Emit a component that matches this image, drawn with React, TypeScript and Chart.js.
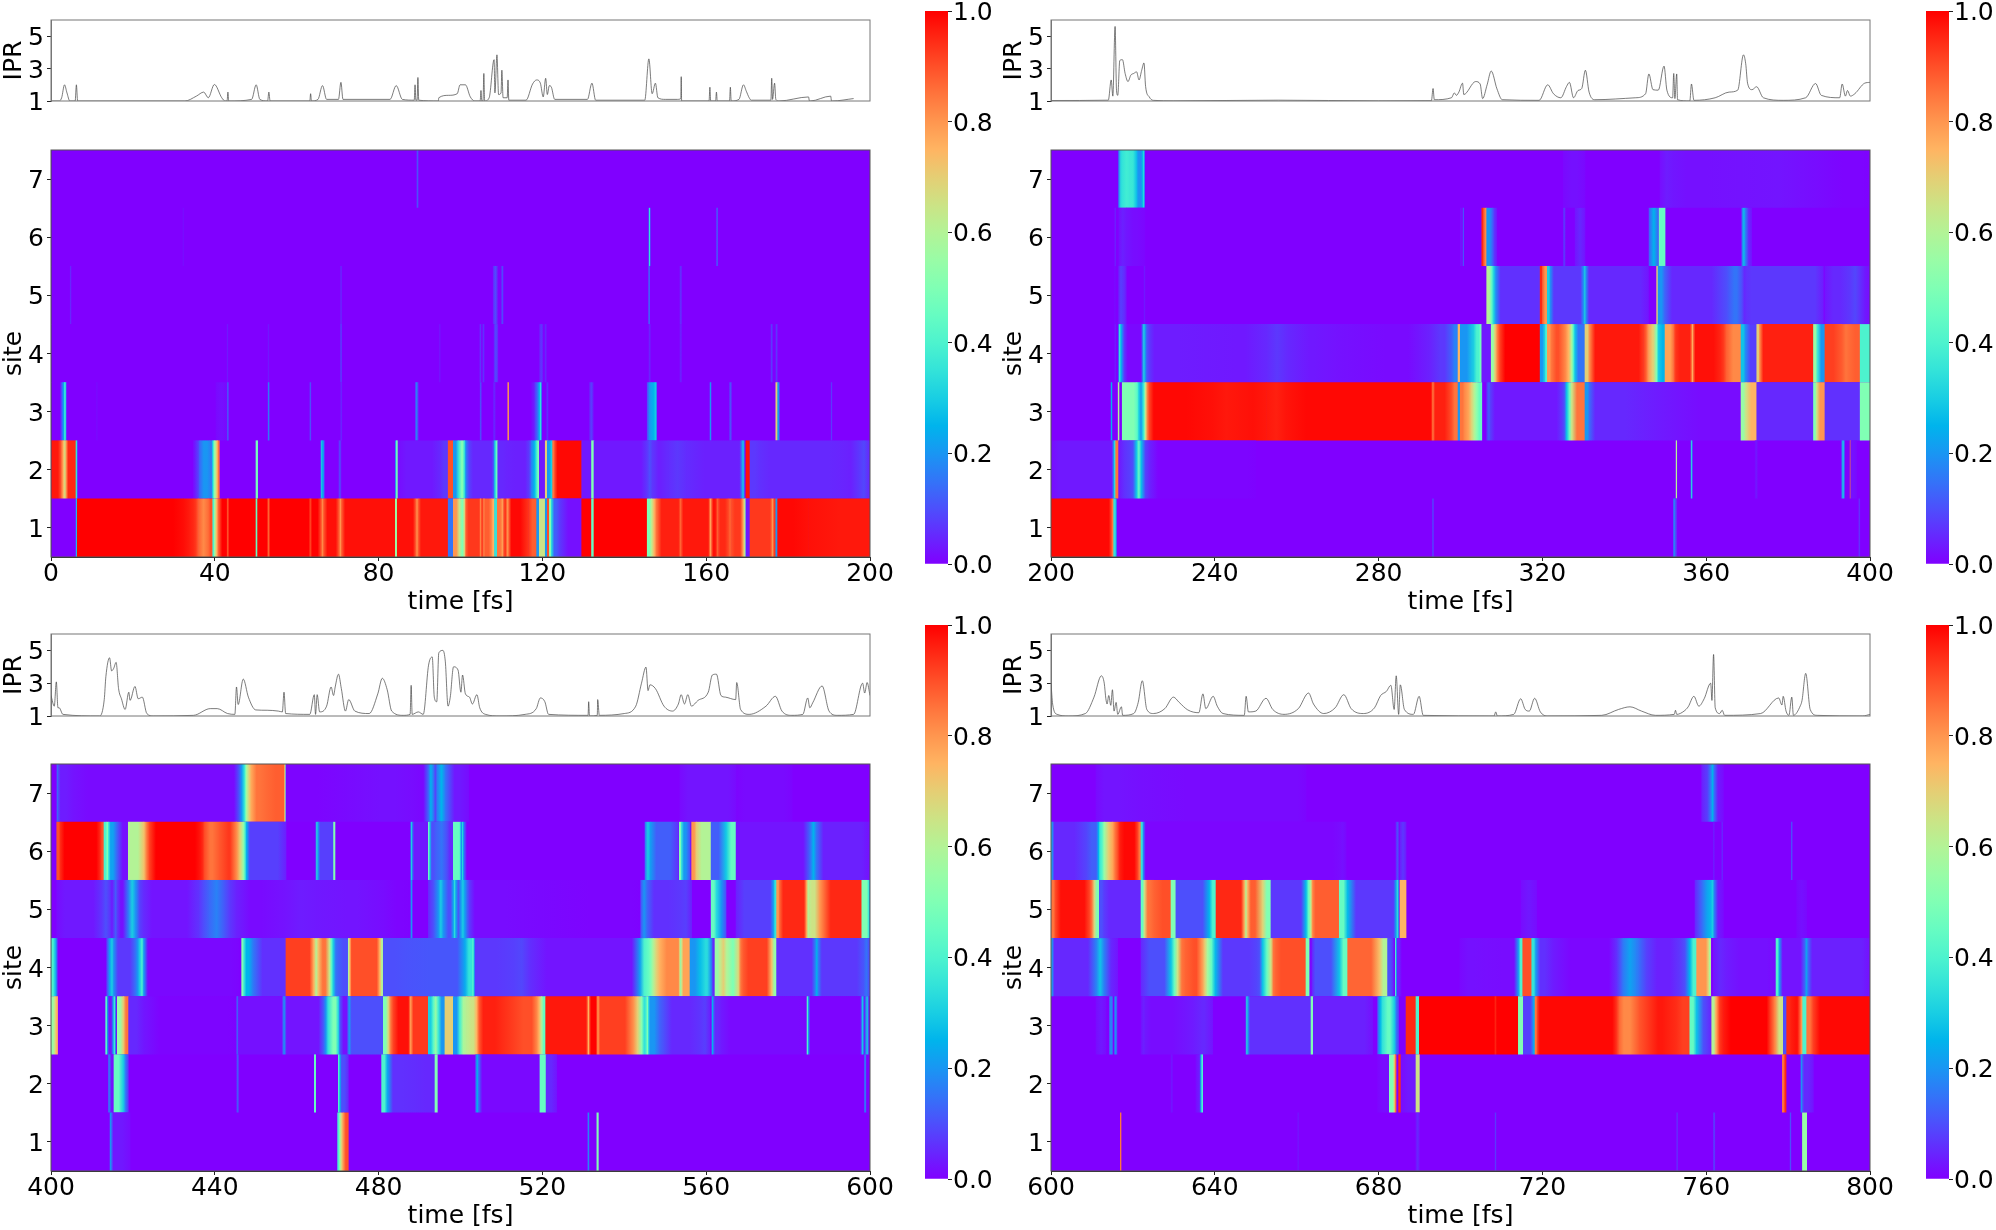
import React, { useEffect, useRef } from "react";
import { Chart, registerables } from "chart.js";
Chart.register(...registerables);

const FONT = "'DejaVu Sans'";
const SITE_LABELS = ["7", "6", "5", "4", "3", "2", "1"];
const IPR_TICKS = [1, 3, 5];
const COLORBAR_STOPS = [0, .05, .1, .15, .2, .25, .3, .35, .4, .45, .5, .55, .6, .65, .7, .75, .8, .85, .9, .95, 1];

// each list: start fs, end fs, population (repeated); anything not listed is 0
const P1_S7 = [89.3,89.7,.1];
const P1_S6 = [32.2,32.4,.02, 146,146.3,.35, 162.5,162.8,.15];
const P1_S5 = [4.7,4.9,.06, 70.7,70.95,.08, 108,109,.1, 110,110.4,.1, 145.9,146.2,.18, 153.6,154,.07];
const P1_S4 = [43,43.2,.03, 53,53.2,.03, 70.7,70.95,.13, 94.8,95.1,.03, 104.7,105,.07, 105.4,105.8,.06, 108.2,109.1,.1, 119.3,120.1,.07, 120.6,121,.05, 146,146.4,.05, 153.6,154,.05, 175.8,176.2,.08, 177,177.4,.07];
const P1_S3 = [2.36,2.85,.1, 2.85,3.17,.2, 3.17,3.33,.3, 3.33,3.66,.42, 3.66,3.82,.1, 11.1,11.3,.02, 40.3,43,.02, 43.05,43.35,.15, 53,53.3,.18, 63.2,63.45,.12, 70.7,71,.06, 89,89.35,.2, 89.35,89.7,.1, 104.8,105.1,.12, 108,108.5,.05, 111.55,111.75,.8, 117.4,118.4,.03, 118.4,119.25,.15, 119.25,119.8,.35, 121,121.4,.06, 131.5,132.4,.08, 145.6,146.7,.2, 146.7,147.5,.25, 147.5,147.9,.3, 160.9,161.2,.2, 165.65,166.2,.1, 177,177.45,.7, 177.45,177.9,.2, 190.5,190.7,.07];
const P1_S2 = [0,2.3,.97, 2.3,2.9,.85, 2.9,3.2,.75, 3.2,3.7,.65, 3.7,6.1,.95, 6.1,6.4,.35, 34.75,35.5,.03, 35.5,36.4,.08, 36.4,38.8,.2, 38.8,39.5,.15, 39.5,40,.45, 40,40.6,.65, 40.6,41.1,.85, 50.06,50.46,.48, 65.9,66.3,.3, 66.3,66.74,.2, 70.3,70.8,.1, 84.1,84.3,.3, 84.3,84.6,.5, 84.8,95,.03, 95,97,.07, 97,98.25,.9, 98.25,99.5,.2, 99.5,101,.5, 101,101.5,.2, 101.5,102.3,.1, 102.3,108,.05, 108,108.4,.15, 108.4,109.1,.45, 109.1,111.3,.05, 111.3,116.6,.04, 116.6,117.4,.1, 117.4,118.6,.25, 118.6,119.25,.5, 119.25,120.7,.03, 120.7,121.2,.7, 121.2,121.9,.2, 121.9,122.5,.3, 122.5,123.1,.85, 123.1,129.6,.99, 129.6,132,.03, 132,132.6,.5, 132.6,145.5,.03, 145.5,146.9,.1, 146.9,150.8,.04, 150.8,155.2,.07, 155.2,168.7,.04, 168.7,169.3,.3, 169.7,170.7,.98, 170.7,173.1,.07, 173.1,193.5,.05, 193.5,197.1,.04, 197.1,200,.09];
const P1_S1 = [6.1,6.43,.3, 6.43,32.3,1, 32.3,34.75,.97, 34.75,36,.93, 36,38.4,.82, 38.4,39.5,.9, 39.5,40,.4, 40,40.9,.75, 40.9,43.06,1, 43.06,43.3,.85, 43.3,50.06,1, 50.06,50.46,.45, 50.46,53,1, 53,53.3,.85, 53.3,63.2,1, 63.2,63.5,.9, 63.5,65.9,1, 65.9,66.7,.82, 66.7,70.3,.98, 70.3,71.06,.8, 71.06,84.08,.98, 84.08,84.57,.55, 84.57,89.05,.98, 89.05,89.7,.8, 89.7,97,.97, 97,98.25,.15, 98.25,99.7,.8, 99.7,101,.5, 101,101.5,.85, 101.5,104.8,.93, 104.8,105,.8, 105,105.6,.92, 105.6,105.8,.8, 105.8,107.6,.88, 107.6,108.3,.75, 108.3,109,.35, 109,110.1,.85, 110.1,110.5,.78, 110.5,111.3,.95, 111.3,111.85,.78, 111.85,116.6,.99, 116.6,118.6,.88, 118.6,119.25,.2, 119.25,120.7,.65, 120.7,121.2,.2, 121.2,121.7,.9, 121.7,122.3,.5, 122.3,124.3,.12, 124.3,129.6,.02, 129.6,132,1, 132,132.6,.45, 132.6,145.6,1, 145.6,146.7,.5, 146.7,147.9,.75, 147.9,153.6,.96, 153.6,154,.85, 154,160.9,.97, 160.9,161.3,.75, 161.3,162.6,.98, 162.6,163,.87, 163,165.4,.95, 165.4,166.2,.87, 166.2,168.9,.93, 168.9,169.5,.7, 169.5,169.7,.5, 169.7,170.7,.03, 170.7,175.99,.93, 175.99,176.4,.8, 176.4,177,.93, 177,177.45,.2, 177.45,185,.99, 185,200,.97];

const P2_S7 = [216.5,217.6,.33, 217.6,219.2,.38, 219.2,220.84,.36, 220.84,221.65,.2, 221.65,222.3,.18, 222.3,222.87,.32, 325.1,330.4,.02, 348.75,352,.035, 352,368.3,.02, 368.3,387,.025, 387,400,.005];
const P2_S6 = [215.55,215.8,.05, 216.6,218.4,.04, 218.4,222.9,.015, 300,300.2,.05, 300.6,300.77,.15, 305.2,305.7,.95, 305.7,306.4,.82, 306.4,307.8,.2, 307.8,308.85,.06, 325.1,325.55,.08, 328,330.4,.05, 346.05,348.35,.25, 348.5,349.95,.45, 368.7,369.65,.27, 369.65,371.1,.05];
const P2_S5 = [215.5,215.7,.02, 216.5,217.6,.08, 217.6,218.4,.05, 222.7,222.95,.03, 306.4,307.6,.6, 307.6,308.7,.3, 308.7,319.45,.06, 319.45,320.1,.95, 320.1,321.2,.8, 321.2,322,.3, 322,330,.07, 330,330.7,.3, 330.7,345.9,.05, 347.9,348.25,.7, 348.25,349.95,.2, 349.95,365,.05, 365,368.7,.15, 368.7,369.9,.05, 369.9,388.6,.07, 389,395.15,.05, 395.15,397.6,.09, 397.6,400,.03];
const P2_S4 = [215.55,215.8,.04, 216.5,216.93,.35, 216.93,217.4,.25, 217.4,218.07,.1, 218.07,222.46,.01, 222.46,222.95,.35, 222.95,224.1,.1, 224.1,237.93,.035, 237.93,252.6,.03, 252.6,257.87,.07, 257.87,270.5,.03, 270.5,292.47,.012, 292.47,297.76,.07, 297.76,299.4,.17, 299.4,299.95,.75, 299.95,303.15,.2, 303.15,304.8,.4, 304.8,305.2,.5, 305.2,307.5,.03, 307.5,308.45,.55, 308.45,309.7,.85, 309.7,319.45,1, 319.45,320.5,.2, 320.5,321.2,.4, 321.2,322.3,.8, 322.3,325.55,.9, 325.55,327.2,.75, 327.2,328,.4, 328,330.4,.15, 330.4,331.65,.7, 331.65,344.7,.97, 344.7,345.9,.88, 345.9,347.9,.7, 347.9,348.75,.3, 348.75,349.95,.25, 349.95,352,.78, 352,352.8,.92, 352.8,356.45,.96, 356.45,356.9,.75, 356.9,363.4,.98, 363.4,365,.93, 365,368.5,.82, 368.5,369.65,.28, 369.65,372.35,.08, 372.35,373.15,.7, 373.15,386.2,.96, 386.2,387.15,.55, 387.15,389,.2, 389,393.1,.92, 393.1,395.15,.85, 395.15,397.6,.88, 397.6,400,.4];
const P2_S3 = [214.65,214.9,.25, 216.4,216.6,.6, 217.4,220.84,.5, 220.84,221.5,.4, 221.5,222.46,.2, 222.46,223.1,.45, 223.1,224.1,.85, 224.1,239.56,.99, 239.56,246.07,.97, 246.07,252.6,.98, 252.6,257.47,.96, 257.47,293.12,.99, 293.12,293.44,.8, 293.44,297.76,.96, 297.76,299.4,.85, 299.4,299.95,.2, 299.95,301.1,.85, 301.1,302.75,.78, 302.75,304,.6, 304,305.2,.45, 306.4,307.4,.12, 307.4,324.7,.03, 324.7,325.95,.1, 325.95,327.2,.45, 327.2,330.4,.85, 330.4,331.65,.2, 331.65,348.75,.05, 348.75,368.5,.015, 368.5,369.75,.55, 369.75,372.35,.75, 372.35,386.2,.05, 386.2,387,.5, 387,389,.8, 389,397.6,.06, 397.6,400,.5];
const P2_S2 = [200,215.3,.03, 215.3,215.8,.35, 215.8,216.4,.85, 216.6,219.2,.06, 219.2,220.84,.1, 220.84,222.06,.45, 222.06,224.1,.08, 224.1,250,.005, 352.65,352.8,.6, 356.3,356.6,.35, 371.95,372.5,.03, 393.1,393.75,.3, 395.15,395.3,.85, 395.3,396.75,.02];
const P2_S1 = [200,214.7,.99, 214.7,215.3,.85, 215.3,216,.35, 293.12,293.44,.1, 352,352.25,.25, 352.25,352.8,.1, 397.25,397.5,.08];

const P3_S7 = [401.4,401.87,.15, 401.87,405.45,.035, 405.45,445.9,.012, 445.9,447.13,.2, 447.13,447.78,.45, 447.78,449,.7, 449,452.66,.85, 452.66,457.14,.88, 457.14,457.38,.5, 457.38,472.6,.005, 472.6,488.07,.02, 488.07,492.14,.01, 492.14,493.36,.25, 493.36,494.34,.08, 494.34,496.45,.25, 496.45,502,.03, 553.6,567.4,.025, 567.44,581,.012];
const P3_S6 = [401.4,402.36,.9, 402.36,412,1, 412,412.94,.9, 412.94,413.6,.4, 413.6,414.08,.5, 414.08,416.2,.22, 416.2,418.88,.02, 418.88,422.7,.6, 422.7,424.17,.85, 424.17,436.38,1, 436.38,437.6,.95, 437.6,441.27,.85, 441.27,445.34,.93, 445.34,446.96,.7, 446.96,447.78,.4, 447.78,457.38,.08, 464.7,465.2,.35, 465.2,469,.08, 469,469.35,.5, 487.83,488.24,.3, 488.24,492.14,.03, 492.14,492.55,.45, 492.55,494.18,.1, 494.18,496.62,.15, 496.62,498.25,.05, 498.25,500.04,.45, 500.04,500.37,.15, 500.37,500.7,.35, 500.7,501.35,.1, 545.06,546.44,.3, 546.44,553.2,.12, 553.44,554,.5, 554,556.05,.2, 556.45,557.67,.8, 557.67,561.2,.6, 561.2,564.84,.12, 564.84,567.3,.45, 567.3,585.35,.025, 585.35,587,.25, 587,600,.04];
const P3_S5 = [401.4,412.37,.03, 412.37,414.4,.1, 414.4,415.38,.03, 415.38,416.2,.12, 416.2,418.88,.02, 418.88,420.75,.3, 420.75,422.7,.08, 422.7,436,.025, 436,438.8,.1, 438.8,442.08,.17, 442.08,445.34,.07, 445.34,457.38,.012, 457.38,464.87,.035, 464.87,481.15,.025, 481.15,487.66,.005, 487.83,488.24,.2, 492.14,494.58,.1, 494.58,495.8,.3, 495.8,498.25,.1, 498.25,498.9,.35, 498.9,500.04,.1, 500.04,501.1,.3, 501.1,502.3,.12, 502.3,519.4,.015, 519.4,543.84,.005, 544,545.63,.2, 545.63,553.6,.06, 553.6,556.45,.08, 561.2,562.56,.45, 562.56,564.84,.2, 567.3,576.4,.08, 576.4,577.2,.35, 577.2,578,.8, 578,584.54,.95, 584.54,585.2,.6, 585.2,587.8,.65, 587.8,598,.95, 598,599.6,.5, 599.6,600,.3];
const P3_S4 = [400,400.97,.4, 400.97,401.54,.2, 413.59,414.4,.15, 414.4,415.38,.3, 415.38,420.5,.07, 420.5,421.73,.2, 421.73,422.7,.4, 422.7,445.9,.01, 446.56,447.13,.5, 447.13,449.4,.25, 449.4,457.38,.06, 457.38,464.2,.92, 464.2,465.28,.6, 465.28,467.97,.85, 467.97,468.94,.45, 468.94,470.16,.15, 470.16,472.6,.1, 472.6,473,.6, 473,480.34,.9, 480.34,481.15,.6, 481.15,486.85,.1, 486.85,501.1,.11, 501.1,503,.35, 503,503.3,.45, 503.3,512.9,.07, 512.9,517,.09, 517,543.84,.025, 543.84,545.87,.4, 545.87,547.1,.5, 547.1,548.74,.7, 548.74,553.6,.82, 553.6,554,.5, 554,556.05,.78, 556.05,558.5,.2, 558.5,561.2,.33, 561.2,562.15,.05, 562.15,563.4,.55, 563.4,565,.7, 565,567.85,.5, 567.85,569.07,.85, 569.07,576,.92, 576,577.2,.55, 577.2,586.57,.06, 586.57,587.4,.25, 587.4,598.4,.07, 598.4,600,.15];
const P3_S3 = [400,400.97,.55, 400.97,401.6,.75, 413.35,413.75,.42, 413.75,415.2,.02, 415.2,415.7,.42, 415.7,416.2,.02, 416.2,417.66,.55, 417.66,418.96,.85, 418.96,422.7,.05, 422.7,445.17,.005, 445.34,445.58,.2, 445.58,456.73,.02, 456.73,457.14,.25, 457.14,466.5,.025, 466.5,467.7,.2, 467.7,470.16,.5, 470.16,470.8,.15, 470.8,472.6,.02, 472.6,473,.25, 473,481.15,.1, 481.15,482.37,.5, 482.37,483.6,.85, 483.6,487.66,.98, 487.66,488.07,.75, 488.07,492.14,.93, 492.14,493.36,.3, 493.36,494.58,.55, 494.58,496.2,.2, 496.2,498.25,.7, 498.25,499.87,.2, 499.87,501.5,.58, 501.5,503.95,.65, 503.95,504.76,.85, 504.76,512.09,.96, 512.09,518.6,.9, 518.6,519.8,.75, 519.8,520.8,.45, 520.8,531.06,.97, 531.06,531.46,.75, 531.46,533.4,1, 533.4,533.74,.75, 533.74,542.2,.92, 542.2,544.24,.7, 544.24,545.46,.35, 545.46,545.87,.5, 545.87,548.74,.2, 548.74,558.5,.05, 558.5,560.93,.08, 561.34,561.75,.25, 561.75,563.8,.05, 563.8,584.54,.012, 584.62,585,.4, 585,598,.005, 598,598.4,.3, 598.4,599,.03, 599,599.6,.3];
const P3_S2 = [414,414.4,.2, 414.4,415.38,.02, 415.38,417.66,.45, 417.66,418.88,.15, 445.34,445.82,.12, 464.3,464.63,.45, 470.16,470.57,.4, 470.57,472.6,.1, 480.74,482.13,.4, 482.13,489.29,.06, 489.29,493.77,.05, 493.77,494.34,.5, 503.7,504.5,.25, 504.5,519.4,.01, 519.4,520.9,.45, 520.9,523.5,.05, 598.62,599,.2];
const P3_S1 = [414.4,414.8,.25, 414.8,419.3,.03, 470,470.57,.4, 470.57,471.38,.7, 471.38,472.6,.9, 531.06,531.38,.2, 533.3,533.66,.5];

const P4_S7 = [611,622,.025, 622,662.27,.012, 758.9,761.1,.07, 761.1,762,.25, 762,764.2,.03];
const P4_S6 = [600,600.4,.3, 600.4,608.55,.05, 608.55,611.4,.12, 611.4,611.8,.25, 611.8,613,.4, 613,615.06,.7, 615.06,616.28,.85, 616.28,617.1,.95, 617.1,621.16,.99, 621.16,621.98,.85, 621.98,622.55,.35, 622.55,670.4,.007, 670.4,672.04,.02, 684.25,684.9,.1, 685.22,686.7,.07, 761.75,762,.05, 763.8,764,.08, 780.8,781,.15];
const P4_S5 = [600,601.2,.85, 601.2,609.36,.98, 609.36,610.58,.85, 610.58,611.8,.5, 611.8,613,.1, 613,621.98,.05, 621.98,622.8,.45, 622.8,625.23,.85, 625.23,629.3,.9, 629.3,630.5,.5, 630.5,638.66,.1, 638.66,640.3,.4, 640.3,647.2,.95, 647.2,648,.6, 648,651.7,.88, 651.7,653.72,.5, 653.72,662.27,.07, 662.27,663.5,.45, 663.5,664.06,.8, 664.06,670.4,.88, 670.4,672.45,.45, 672.45,684.25,.07, 684.25,684.9,.35, 685.22,686.7,.75, 714.8,718.6,.03, 757.27,759.3,.1, 759.3,761.1,.22, 761.1,762,.3, 762,764.2,.03, 782.1,784.54,.02];
const P4_S4 = [600,600.4,.3, 600.4,611,.05, 611,613,.28, 613,616.28,.05, 621.98,629.3,.1, 629.3,630.93,.45, 630.93,632.97,.85, 632.97,636.9,.9, 636.9,638.26,.7, 638.26,640.13,.45, 640.13,650.06,.07, 650.06,651.7,.1, 651.7,653.72,.45, 653.72,654.95,.85, 654.95,662.27,.9, 662.27,663.08,.5, 663.25,663.9,.01, 663.9,670.4,.1, 670.4,672.45,.45, 672.45,680.18,.87, 680.18,682.2,.6, 682.2,683.6,.1, 684.1,684.33,.4, 684.33,685.47,.04, 699.88,706.4,.02, 706.4,714.13,.015, 714.13,715.2,.4, 715.2,717.4,.9, 717.4,718.44,.35, 718.44,722.67,.06, 722.67,738,.007, 738,739.77,.1, 739.77,743,.22, 743,745.5,.12, 745.5,753.6,.04, 753.6,756,.1, 756,757.67,.4, 757.67,760.5,.8, 760.5,761.1,.6, 761.75,765,.05, 765,776.8,.02, 777.05,777.86,.4, 777.86,784,.025, 784,784.94,.22, 784.94,800,.04];
const P4_S3 = [611,613.43,.03, 614.25,615.06,.2, 615.47,616.1,.2, 621.98,623.2,.04, 623.2,634.6,.015, 634.6,639.48,.05, 647.62,648.1,.35, 648.1,663.5,.06, 663.5,664.06,.5, 664.06,678.55,.04, 679.77,681,.25, 681,683.84,.45, 683.84,684.9,.15, 686.7,689.13,.95, 689.13,689.95,.4, 689.95,708.43,1, 708.43,708.67,.95, 708.67,714.13,1, 714.13,715.35,.5, 715.35,717.63,.08, 717.63,718.2,.25, 718.2,718.77,.85, 718.77,738,.99, 738,738.95,.9, 738.95,743.84,.82, 743.84,752.63,.97, 752.63,756,.92, 756,757.67,.45, 757.67,761.1,.1, 761.34,762.4,.6, 762.4,764.2,.93, 764.2,776.8,1, 776.8,778.84,.65, 778.84,779.65,.1, 779.65,780.87,.95, 780.87,782.9,.98, 782.9,783.56,.8, 783.56,784.54,.4, 784.54,786.17,.85, 786.17,800,.99];
const P4_S2 = [629.3,629.7,.03, 635.4,636.63,.03, 636.63,637.04,.4, 679.77,682.62,.015, 682.62,683.84,.5, 683.84,684.25,.85, 684.9,685.39,.95, 685.47,689.13,.03, 689.13,689.95,.65, 778.6,779.1,.85, 779.1,779.5,.95, 783.07,783.5,.2, 783.5,786.17,.05];
const P4_S1 = [616.93,617.1,.85, 660.2,660.5,.03, 689.13,689.95,.05, 708.43,708.67,.07, 752.8,753,.1, 761.75,762.1,.1, 780.47,780.7,.1, 783.5,784.54,.55];

// IPR traces: time, value
const I1_T = [0,2,2.6,3.3,3.9,4.6,5.9,6.2,6.5,32.7,35.5,37.3,38.4,39.9,41.7,42.5,43,43.2,43.4,49,50.1,51,52.9,53.2,53.5,63.2,63.4,63.6,65.2,66.3,67.3,70.2,70.8,71.3,82.8,84.3,85.8,88.7,88.9,89.1,89.4,89.6,89.8,94.6,94.7,97.1,99.2,99.9,101.2,102.4,103.5,104.8,105,105.2,105.5,105.7,105.9,107,108.2,108.4,108.9,109.3,109.9,110.1,110.4,111.4,111.6,111.8,116,117.6,118.6,119.5,120.2,120.8,121.2,121.7,122.2,123,131,132.1,133,145,146,146.8,147.6,148.2,150,153,153.8,153.9,154,160.7,160.9,161.1,162.3,162.5,162.7,165.7,165.9,166.1,168,169.1,169.8,170.5,171,175.8,176,176.2,176.7,177,177.8,185,185.2,185.4,190.4,190.6,190.8,196,200];
const I1_V = [1,1,1.2,2,1.5,1,1,2,1,1,1.3,1.55,1.2,2.02,1.2,1,1,1.55,1,1.1,2,1.1,1,1.55,1,1,1.45,1,1.1,1.95,1.1,1.1,2.15,1.1,1.1,1.95,1.1,1.05,2,1.05,1.05,2.45,1.05,1,1.2,1.35,1.45,2,2,1.25,1,1,1.65,1,1,2.7,1,1.2,3.55,1.5,3.85,1.4,1.5,2.9,1.2,1.2,2.3,1.05,1.05,2.05,2.3,2.1,1.25,2.4,1.4,1.95,1.85,1.1,1.1,2.1,1.05,1.05,3.6,1.45,2.1,1.2,1.1,1.1,1.15,2.5,1,1,1.85,1,1,1.55,1,1,1.85,1,1.1,2,1.6,1.2,1.05,1.05,2.4,1.1,2.1,1.1,1,1.25,1,1,1.3,1,1,1.15];
const I2_T = [200,214,214.7,215.1,215.65,216,216.3,216.8,217.45,218.1,218.8,219.5,220.2,220.9,221.5,222.15,222.7,223.1,224,225,230,255.5,280,292.9,293.3,293.6,297.8,298.5,299,299.6,300.5,300.8,303.7,304.8,305.4,306.5,307.5,308.9,310.2,319.2,321.3,322.7,324.5,325.9,326.6,327.6,328.7,329.6,330.5,331.4,332.8,342.8,345.2,346,347,348.3,349.7,350.4,351.8,352.07,352.35,352.8,353,356,356.4,357,362.2,365.6,367.7,369.1,369.65,370.1,371.2,372.3,373.95,378.8,384.3,386.7,388.1,392.6,393.2,394,394.5,395.2,396.3,398.7,400];
const I2_V = [1.03,1.05,2.3,1.3,5.6,1.65,1.35,3.5,3.55,2.7,2.2,2.6,2.7,2.8,2.3,2.9,3.35,1.9,1.25,1.04,1.01,1.05,1.01,1.02,1.77,1.08,1.2,1.5,1.35,1.55,2.1,1.4,2.2,2.05,1.15,2,2.85,1.75,1.08,1.04,2,1.45,1.2,1.9,2.15,1.2,1.65,1.77,2.9,1.55,1.08,1.2,1.45,2.67,1.7,1.67,3.15,1.67,1.2,2.7,1.15,2.67,1.08,1,2.05,1.04,1.2,1.55,1.67,3.85,3.3,2.1,1.7,1.88,1.2,1.04,1.2,2.08,1.35,1.2,2.05,1.3,1.65,1.3,1.45,2.1,2.15];
const I3_T = [400,400.8,401.3,401.7,402,402.9,411.9,413,413.4,414.3,414.8,415.3,415.9,416.5,417.2,418.1,419,419.3,420.5,421.3,422.3,423.4,425,434.8,438.9,440.6,443.1,444.9,445.3,445.7,446.95,448.2,450,452.8,455.5,456.5,456.9,457.3,463.2,464.3,464.6,465,465.6,467.3,468.4,469,469.4,470.2,470.9,471.9,472.7,474.2,477.7,479.8,480.9,482.1,483.2,486,487.7,487.95,488.2,489.7,490.9,492.2,493.1,493.6,494.2,494.7,495.7,496.3,496.95,497.5,498.3,499.4,500.1,500.5,501.2,502.2,502.9,504,504.7,506.1,509.6,515.8,518.5,519.5,520.6,521.5,531.15,531.3,531.5,533.4,533.5,533.9,540,542.8,544.2,545.3,545.8,546.25,547.6,549.7,551.8,553.2,553.9,554.7,555.5,556.4,558,560.5,561.5,562.5,563.6,564.7,567.2,567.45,568.4,570.5,574.6,576.9,578.5,580.9,583.6,584.8,585.3,586,588.3,590,592,596,598.2,598.7,599.3,600];
const I3_V = [2.25,1.6,3.08,1.5,1.5,1.1,1,2,3.4,4.55,3.75,3.9,4.27,2.67,2.05,1.4,2.45,1.95,2.8,2.05,2.15,1.15,1,1.04,1.45,1.45,1.15,1.1,2.77,1.7,3.25,2.15,1.37,1.35,1.3,1.25,2.45,1.15,1.1,2.3,1.1,2.3,1.25,1.6,2.77,2.25,2.77,3.55,2.67,1.3,2,1.3,1.15,2.35,3.3,2.6,1.3,1.04,1.1,2.87,1.1,1.25,1.1,4.1,4.6,2.15,1.87,4.85,5,4.3,1.6,2.15,4,3.8,2.45,3.5,2.35,2.15,1.73,2.3,1.5,1.1,1,1.1,1.45,2.1,1.87,1.1,1.04,1.87,1,1.04,2,1.04,1.15,1.6,3,3.98,2.55,2.9,2.67,1.6,1.3,1.73,2.3,1.73,2.3,1.6,1.95,2.45,3.5,3.55,2.25,2.15,2,3.04,1.4,1.1,1.6,2.2,1.3,1.04,1.1,2.1,1.5,1.8,2.83,1.3,1.04,1.1,3,2.4,3.04,2.25];
const I4_T = [600,600.4,601.5,604.3,608.4,610.5,612.3,613,613.4,613.7,614.1,614.6,615,615.4,615.9,616.3,617.2,617.5,620.2,621.3,622.3,623.4,625,627.8,629.9,631.3,633.4,636.1,637.1,637.8,639.6,640.6,642,647.2,647.65,648.2,650,652.5,654.15,656.9,660.4,662.9,664.1,666.6,669.4,671.5,673.3,676.3,679,680.5,681.9,683,683.8,684.3,684.9,685.3,686.3,688.5,689.9,690.9,708.2,708.6,709,713,714.7,715.8,716.8,718.1,719.5,721.3,734.5,738.6,741.4,744.2,747.6,752.2,752.5,752.8,754.6,755.6,757,758.2,759.5,761.1,761.4,761.8,762.2,763.3,763.9,764.5,773.3,777.7,778.5,778.8,779.5,780.2,780.9,781.3,783,783.4,784.3,785.4,787.1,798.2,800];
const I4_V = [3,1.73,1.1,1,1.15,2.15,3.45,3,2.05,1.73,2.25,1.65,2.6,1.3,1.83,1.1,1.56,1.04,1.15,1.83,3.15,1.4,1.15,1.45,2.15,1.83,1.37,1.2,2.35,1.45,2.2,1.6,1.15,1.04,2.2,1.25,1.3,2.08,1.4,1.1,1.45,2.4,1.73,1.15,1.5,2.3,1.45,1.15,1.5,2.25,2.5,2.87,1.4,3.45,1.1,2.9,1.4,1.1,2.2,1.04,1,1.25,1,1.1,2.05,1.4,1.3,2.08,1.25,1,1.04,1.4,1.56,1.3,1.04,1.1,1.35,1.1,1.3,1.56,2.2,1.6,2.05,3,1.95,4.75,1.5,1.15,1.35,1.04,1.15,2.1,1.67,2.2,1.3,1.04,2.15,1.04,1.63,1.95,3.6,1.4,1.04,1,1.1];

const PANELS = [
  { min: 0, max: 200, sites: [P1_S7, P1_S6, P1_S5, P1_S4, P1_S3, P1_S2, P1_S1], t: I1_T, v: I1_V },
  { min: 200, max: 400, sites: [P2_S7, P2_S6, P2_S5, P2_S4, P2_S3, P2_S2, P2_S1], t: I2_T, v: I2_V },
  { min: 400, max: 600, sites: [P3_S7, P3_S6, P3_S5, P3_S4, P3_S3, P3_S2, P3_S1], t: I3_T, v: I3_V },
  { min: 600, max: 800, sites: [P4_S7, P4_S6, P4_S5, P4_S4, P4_S3, P4_S2, P4_S1], t: I4_T, v: I4_V },
];

// geometry of each panel in page pixels
const COLS = [{ x0: 51, x1: 870, cb0: 925, cb1: 948 }, { x0: 1051, x1: 1870, cb0: 1926, cb1: 1949 }];
const ROWS = [
  { iy0: 20, iy1: 101, hy0: 150, hy1: 557, cy0: 11, cy1: 564 },
  { iy0: 634, iy1: 716, hy0: 764, hy1: 1171, cy0: 625, cy1: 1179 },
];

const TICK_SIZE = 25;
const TITLE_SIZE = 25;
const FRAME = "#555";
const SMOOTH_LIMIT = 0.4;
const FREE_RAMP = 2;

function rainbow(x: number) {
  const r = Math.min(1, Math.abs(2 * x - 0.5));
  const g = Math.sin(Math.PI * x);
  const b = Math.cos((Math.PI * x) / 2);
  return `rgb(${Math.round(r * 255)},${Math.round(g * 255)},${Math.round(b * 255)})`;
}

const framePlugin = {
  id: "frame",
  afterDraw(chart: any) {
    const a = chart.chartArea;
    const c = chart.ctx;
    c.save();
    c.strokeStyle = chart.options.plugins.frame?.color ?? FRAME;
    c.lineWidth = 1;
    c.strokeRect(a.left, a.top, a.right - a.left, a.bottom - a.top);
    c.restore();
  },
};

function fixY(width: number) {
  return (s: any) => { s.width = width; s.paddingTop = 0; s.paddingBottom = 0; };
}
function fixX(height: number) {
  return (s: any) => { s.height = height; s.paddingLeft = 0; s.paddingRight = 0; };
}
const tickFont = { family: FONT, size: TICK_SIZE };
// a short blank first line sets the digits on the tick's centre line
const yTickFont = { family: FONT, size: TICK_SIZE, lineHeight: 0.2 };
const titleFont = { family: FONT, size: TITLE_SIZE, lineHeight: 1 };
const tickGrid = { drawOnChartArea: false, drawTicks: true, tickLength: 4, color: "#222", tickColor: "#222", offset: false };

function Box({ left, top, w, h, build }: any) {
  const ref = useRef<HTMLCanvasElement>(null);
  useEffect(() => {
    const ch = new Chart(ref.current as any, build());
    return () => ch.destroy();
  }, []);
  return <canvas ref={ref} width={w} height={h} style={{ position: "absolute", left, top, width: w, height: h }} />;
}

function heatConfig(p: any) {
  const rows: any[] = [];
  const shades: number[][] = [];
  p.sites.forEach((list: number[], i: number) => {
    rows.push({ x: [p.min, p.max], y: SITE_LABELS[i] });
    shades.push([0, 0, 0, 0.5, 0.5]);
    for (let k = 0; k < list.length; k += 3) {
      const s = list[k], e = list[k + 1], v = list[k + 2];
      const w = e - s;
      const touchPrev = k > 0 && Math.abs(list[k - 2] - s) < 0.02;
      const touchNext = k + 3 < list.length && Math.abs(list[k + 3] - e) < 0.02;
      const pv = touchPrev ? list[k - 1] : 0;
      const nv = touchNext ? list[k + 5] : 0;
      const pw = touchPrev ? list[k - 2] - list[k - 3] : FREE_RAMP;
      const nw = touchNext ? list[k + 4] - list[k + 3] : FREE_RAMP;
      const lo = Math.abs(v - pv) < SMOOTH_LIMIT ? (v + pv) / 2 : v;
      const hi = Math.abs(v - nv) < SMOOTH_LIMIT ? (v + nv) / 2 : v;
      rows.push({ x: [s, e], y: SITE_LABELS[i] });
      shades.push([lo, v, hi, Math.min(0.5, pw / w), Math.min(0.5, nw / w)]);
    }
  });
  return {
    type: "bar",
    data: {
      datasets: [{
        data: rows, borderWidth: 0, categoryPercentage: 1, barPercentage: 1,
        backgroundColor: (ctx: any) => {
          const s = shades[ctx.dataIndex];
          const sc = ctx.chart.scales.x;
          const row = rows[ctx.dataIndex];
          if (!s) return rainbow(0);
          if (!sc || !row) return rainbow(s[1]);
          const a = sc.getPixelForValue(row.x[0]);
          const b = sc.getPixelForValue(row.x[1]);
          if (!isFinite(a) || !isFinite(b) || a === b) return rainbow(s[1]);
          const g = ctx.chart.ctx.createLinearGradient(a, 0, b, 0);
          g.addColorStop(0, rainbow(s[0]));
          g.addColorStop(s[3], rainbow(s[1]));
          g.addColorStop(1 - s[4], rainbow(s[1]));
          g.addColorStop(1, rainbow(s[2]));
          return g;
        },
      }],
    },
    plugins: [framePlugin],
    options: {
      indexAxis: "y", animation: false, responsive: false, devicePixelRatio: 1, events: [],
      layout: { padding: { top: 10, right: 40, left: 0, bottom: 0 } },
      plugins: { legend: { display: false }, tooltip: { enabled: false } },
      scales: {
        x: {
          type: "linear", min: p.min, max: p.max, grid: tickGrid, border: { color: "#222" },
          ticks: { stepSize: 40, color: "#000", font: tickFont, padding: -2, maxRotation: 0, autoSkip: false },
          title: { display: true, text: "time [fs]", color: "#000", font: titleFont, padding: { top: 0, bottom: 2 } },
          afterFit: fixX(60),
        },
        y: {
          type: "category", labels: SITE_LABELS, offset: true, grid: tickGrid, border: { color: "#222" },
          ticks: { color: "#000", font: yTickFont, padding: 3, autoSkip: false, callback: (v: any, i: number) => ["", SITE_LABELS[i]] },
          title: { display: true, text: "site", color: "#000", font: titleFont, padding: { top: 2, bottom: 0 } },
          afterFit: fixY(51),
        },
      },
    },
  };
}

function iprConfig(p: any) {
  return {
    type: "line",
    data: { labels: p.t, datasets: [{ data: p.t.map((x: number, i: number) => ({ x, y: p.v[i] })), borderColor: "#444", borderWidth: 0.7, pointRadius: 0, cubicInterpolationMode: "monotone" }] },
    plugins: [framePlugin],
    options: {
      animation: false, responsive: false, devicePixelRatio: 1, events: [],
      layout: { padding: { top: 10, right: 40, left: 0, bottom: 12 } },
      plugins: { legend: { display: false }, tooltip: { enabled: false }, frame: { color: "#777" } },
      scales: {
        x: { type: "linear", min: p.min, max: p.max, display: false },
        y: {
          type: "linear", min: 1, max: 6, grid: tickGrid, border: { color: "#777" },
          afterBuildTicks: (s: any) => { s.ticks = IPR_TICKS.map((value) => ({ value })); },
          ticks: { color: "#000", font: yTickFont, padding: 3, autoSkip: false, callback: (v: any) => ["", String(v)] },
          title: { display: true, text: "IPR", color: "#000", font: titleFont, padding: { top: 2, bottom: 0 } },
          afterFit: fixY(51),
        },
      },
    },
  };
}

function barConfig() {
  return {
    type: "bar",
    data: {
      labels: ["c"],
      datasets: [{
        data: [[0, 1]], borderWidth: 0, categoryPercentage: 1, barPercentage: 1,
        backgroundColor: (ctx: any) => {
          const a = ctx.chart.chartArea;
          if (!a) return rainbow(0);
          const g = ctx.chart.ctx.createLinearGradient(0, a.bottom, 0, a.top);
          COLORBAR_STOPS.forEach((s) => g.addColorStop(s, rainbow(s)));
          return g;
        },
      }],
    },
    options: {
      animation: false, responsive: false, devicePixelRatio: 1, events: [],
      layout: { padding: { top: 15, right: 20, left: 0, bottom: 15 } },
      plugins: { legend: { display: false }, tooltip: { enabled: false } },
      scales: {
        x: { display: false },
        y: {
          type: "linear", position: "right", min: 0, max: 1,
          grid: { drawOnChartArea: false, drawTicks: true, tickLength: 4, tickColor: "#222" }, border: { display: false },
          ticks: { stepSize: 0.2, color: "#000", font: yTickFont, padding: 1, callback: (v: any) => ["", Number(v).toFixed(1)] },
          afterFit: (s: any) => { s.width = 47; s.paddingTop = 0; s.paddingBottom = 0; },
        },
      },
    },
  };
}

export default function App() {
  const items: any[] = [];
  PANELS.forEach((p, i) => {
    const c = COLS[i % 2];
    const r = ROWS[i < 2 ? 0 : 1];
    const w = c.x1 - c.x0;
    items.push(<Box key={"i" + i} left={c.x0 - 51} top={r.iy0 - 10} w={w + 51 + 40} h={r.iy1 - r.iy0 + 22} build={() => iprConfig(p)} />);
    items.push(<Box key={"h" + i} left={c.x0 - 51} top={r.hy0 - 10} w={w + 51 + 40} h={r.hy1 - r.hy0 + 70} build={() => heatConfig(p)} />);
    items.push(<Box key={"c" + i} left={c.cb0} top={r.cy0 - 15} w={c.cb1 - c.cb0 + 67} h={r.cy1 - r.cy0 + 30} build={() => barConfig()} />);
  });
  return <div style={{ position: "absolute", left: 0, top: 0, width: 1996, height: 1230, overflow: "hidden", fontFamily: FONT }}>{items}</div>;
}
